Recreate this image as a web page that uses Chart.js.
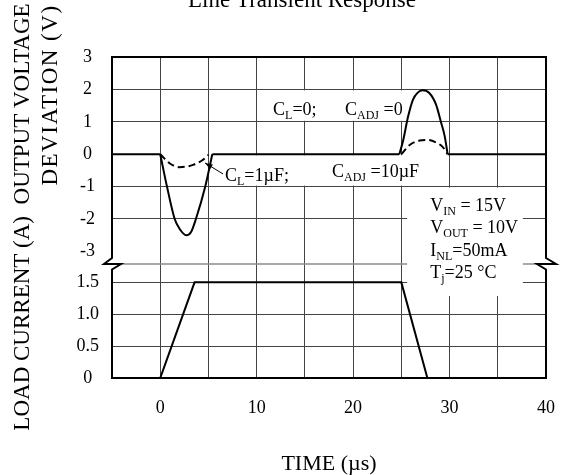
<!DOCTYPE html>
<html><head><meta charset="utf-8">
<script src="https://cdn.jsdelivr.net/npm/chart.js@4/dist/chart.umd.min.js"></script>
<style>html,body{margin:0;padding:0;background:#fff}</style>
</head><body>
<canvas id="c" width="564" height="475"></canvas>
<script>
// ---- data ----
const timeTicks = [-5, 0, 5, 10, 15, 20, 25, 30, 35, 40];
const voltTicks = [3, 2, 1, 0, -1, -2, -3];
const currTicks = [0, 0.5, 1.0, 1.5];

const zeroT = [-5, 0, 2.7, 5.4, 24.8, 27.2, 29.8, 40];
const zeroV = [0, 0, null, 0, 0, null, 0, 0];
const dipSolidT = [0, 0.7, 1.5, 2.0, 2.7, 3.2, 3.7, 4.67, 5.4];
const dipSolidV = [0, -1, -2, -2.3, -2.5, -2.4, -2, -1, 0];
const peakSolidT = [24.8, 25.2, 25.7, 26.2, 26.7, 27.2, 27.9, 28.6, 29.1, 29.5, 29.8];
const peakSolidV = [0, 0.44, 1.16, 1.68, 1.9, 1.97, 1.89, 1.53, 1.0, 0.55, 0];
const dipDashT = [0, 0.97, 2.0, 2.8, 3.4, 4.4, 5.0];
const dipDashV = [0, -0.28, -0.4, -0.38, -0.33, -0.18, -0.02];
const peakDashT = [25.0, 25.9, 26.9, 27.7, 28.6, 29.3, 29.8];
const peakDashV = [0, 0.29, 0.42, 0.44, 0.36, 0.22, 0];
const loadT = [-5, 0, 3.56, 25.0, 27.7, 40];
const loadI = [0, 0, 1.5, 1.5, 0, 0];

// ---- annotations (data units) ----
const notes = [
  {x: 11.7, y: 1.21, parts: [['C'], ['L', 1], ['=0;']]},
  {x: 19.16, y: 1.21, parts: [['C'], ['ADJ', 1], [' =0']]},
  {x: 6.72, y: -0.83, parts: [['C'], ['L', 1], ['=1µF;']]},
  {x: 17.81, y: -0.70, parts: [['C'], ['ADJ', 1], [' =10µF']]},
  {x: 28.0, y: -1.76, parts: [['V'], ['IN', 1], [' = 15V']]},
  {x: 28.0, y: -2.44, parts: [['V'], ['OUT', 1], [' = 10V']]},
  {x: 28.0, y: -3.15, parts: [['I'], ['NL', 1], ['=50mA']]},
  {x: 28.0, y: -3.83, parts: [['T'], ['j', 1], ['=25 °C']]}
];
const boxes = [
  {x0: 10.6, x1: 25.2, top: ['yV', 2], bot: ['yV', 1]},
  {x0: 5.6, x1: 28.2, top: ['yV', 0], bot: ['yV', -1]},
  {x0: 25.6, x1: 37.6, top: ['yV', -1], bot: ['yI', 1.27]}
];
const arrow = {from: [6.51, -0.61], to: [4.65, -0.27]};

const FONT = "'Liberation Serif', 'Times New Roman', serif";
const CLEAR = 'rgba(0,0,0,0)';
const GRID = '#444';
const pts = (t, v) => t.map((x, i) => ({x: x, y: v[i]}));
const base = {borderColor: '#000', borderWidth: 2, pointRadius: 0, fill: false, tension: 0};

function drawRich(ctx, x, y, parts) {
  let cx = x;
  for (const p of parts) {
    if (p[1]) {
      ctx.font = '12px ' + FONT;
      ctx.fillText(p[0], cx, y + 4);
    } else {
      ctx.font = '18px ' + FONT;
      ctx.fillText(p[0], cx, y);
    }
    cx += ctx.measureText(p[0]).width;
  }
}

const deco = {
  id: 'deco',
  beforeDatasetsDraw(chart) {
    const {ctx, chartArea: a, scales} = chart;
    const m = scales.yI.top;
    ctx.save();
    ctx.strokeStyle = '#8c8c8c';
    ctx.lineWidth = 1.5;
    ctx.beginPath(); ctx.moveTo(a.left, m); ctx.lineTo(a.right, m); ctx.stroke();
    ctx.fillStyle = '#fff';
    for (const b of boxes) {
      const x0 = scales.x.getPixelForValue(b.x0), x1 = scales.x.getPixelForValue(b.x1);
      const y0 = scales[b.top[0]].getPixelForValue(b.top[1]) + 1;
      const y1 = scales[b.bot[0]].getPixelForValue(b.bot[1]) - 1;
      ctx.fillRect(x0, y0, x1 - x0, y1 - y0);
    }
    ctx.restore();
  },
  afterDatasetsDraw(chart) {
    const {ctx, chartArea: a, scales} = chart;
    const L = a.left, R = a.right, T = a.top, B = a.bottom, m = scales.yI.top;
    ctx.save();
    ctx.strokeStyle = '#000';
    ctx.lineWidth = 2;
    ctx.lineJoin = 'miter';
    ctx.beginPath();
    ctx.moveTo(L, m - 6); ctx.lineTo(L, T); ctx.lineTo(R, T); ctx.lineTo(R, m - 6);
    ctx.lineTo(R + 10, m); ctx.lineTo(R - 9, m); ctx.lineTo(R, m + 5.5); ctx.lineTo(R, B);
    ctx.lineTo(L, B); ctx.lineTo(L, m + 5.5); ctx.lineTo(L + 9, m); ctx.lineTo(L - 8, m);
    ctx.closePath();
    ctx.stroke();

    ctx.fillStyle = '#000';
    ctx.textBaseline = 'alphabetic';
    ctx.textAlign = 'left';
    for (const n of notes) {
      drawRich(ctx, scales.x.getPixelForValue(n.x), scales.yV.getPixelForValue(n.y), n.parts);
    }
    const fx = scales.x.getPixelForValue(arrow.from[0]), fy = scales.yV.getPixelForValue(arrow.from[1]);
    const tx = scales.x.getPixelForValue(arrow.to[0]), ty = scales.yV.getPixelForValue(arrow.to[1]);
    ctx.lineWidth = 1;
    ctx.beginPath(); ctx.moveTo(fx, fy); ctx.lineTo(tx, ty); ctx.stroke();
    const ang = Math.atan2(ty - fy, tx - fx);
    ctx.beginPath();
    ctx.moveTo(tx, ty);
    ctx.lineTo(tx - 8 * Math.cos(ang - 0.35), ty - 8 * Math.sin(ang - 0.35));
    ctx.lineTo(tx - 8 * Math.cos(ang + 0.35), ty - 8 * Math.sin(ang + 0.35));
    ctx.closePath(); ctx.fill();
    ctx.restore();
  },
  afterDraw(chart) {
    const {ctx} = chart;
    ctx.save();
    ctx.fillStyle = '#000';
    ctx.textAlign = 'center';
    ctx.textBaseline = 'alphabetic';
    ctx.font = '23px ' + FONT;
    ctx.fillText('Line Transient Response', 302, 7);
    ctx.save();
    ctx.translate(28.5, 217); ctx.rotate(-Math.PI / 2);
    ctx.fillText('LOAD CURRENT (A)  OUTPUT VOLTAGE', 0, 0);
    ctx.restore();
    ctx.save();
    ctx.translate(57, 95); ctx.rotate(-Math.PI / 2);
    ctx.letterSpacing = '1.5px';
    ctx.fillText('DEVIATION (V)', 0, 0);
    ctx.restore();
    ctx.restore();
  }
};

new Chart(document.getElementById('c'), {
  type: 'line',
  data: {
    datasets: [
      {...base, data: pts(zeroT, zeroV), yAxisID: 'yV', spanGaps: false},
      {...base, data: pts(dipSolidT, dipSolidV), yAxisID: 'yV', cubicInterpolationMode: 'monotone'},
      {...base, data: pts(peakSolidT, peakSolidV), yAxisID: 'yV', cubicInterpolationMode: 'monotone'},
      {...base, data: pts(dipDashT, dipDashV), yAxisID: 'yV', cubicInterpolationMode: 'monotone', borderDash: [7, 4]},
      {...base, data: pts(peakDashT, peakDashV), yAxisID: 'yV', cubicInterpolationMode: 'monotone', borderDash: [7, 4]},
      {...base, data: pts(loadT, loadI), yAxisID: 'yI'}
    ]
  },
  options: {
    responsive: false,
    devicePixelRatio: 1,
    animation: false,
    layout: {padding: {left: 0, right: 18, top: 57, bottom: 0}},
    plugins: {legend: {display: false}, title: {display: false}, tooltip: {enabled: false}},
    scales: {
      x: {
        type: 'linear', min: -5, max: 40,
        afterBuildTicks: s => { s.ticks = timeTicks.map(v => ({value: v})); },
        afterFit: s => { s.height = 97; s.paddingRight = 0; s.paddingLeft = 0; },
        grid: {color: c => (c.tick && (c.tick.value === -5 || c.tick.value === 40)) ? CLEAR : GRID, lineWidth: 1, drawTicks: false},
        border: {display: false},
        ticks: {autoSkip: false, maxRotation: 0, padding: 19, color: '#000', font: {family: FONT, size: 18},
          callback: v => (v >= 0 && v % 10 === 0) ? String(v) : ''},
        title: {display: true, text: 'TIME (µs)', color: '#000', font: {family: FONT, size: 22, lineHeight: 1}, padding: {top: 0, bottom: 0}}
      },
      yI: {
        type: 'linear', position: 'left', stack: 's', stackWeight: 114, min: 0, max: 1.788,
        afterBuildTicks: s => { s.ticks = currTicks.map(v => ({value: v})); },
        afterFit: s => { s.width = 112; },
        grid: {color: c => (c.tick && c.tick.value === 0) ? CLEAR : GRID, lineWidth: 1, drawTicks: false},
        border: {display: false},
        ticks: {autoSkip: false, crossAlign: 'center', padding: 13, color: '#000', font: {family: FONT, size: 18},
          callback: v => v === 0 ? '0' : v.toFixed(1)}
      },
      yV: {
        type: 'linear', position: 'left', stack: 's', stackWeight: 207, min: -3.39, max: 3,
        afterBuildTicks: s => { s.ticks = voltTicks.map(v => ({value: v})); },
        afterFit: s => { s.width = 112; },
        grid: {color: c => (c.tick && (c.tick.value === 3 || c.tick.value === 0 || c.tick.value === -3)) ? CLEAR : GRID, lineWidth: 1, drawTicks: false},
        border: {display: false},
        ticks: {autoSkip: false, crossAlign: 'center', padding: 17, color: '#000', font: {family: FONT, size: 18},
          callback: v => String(v)}
      }
    }
  },
  plugins: [deco]
});
</script>
</body></html>
